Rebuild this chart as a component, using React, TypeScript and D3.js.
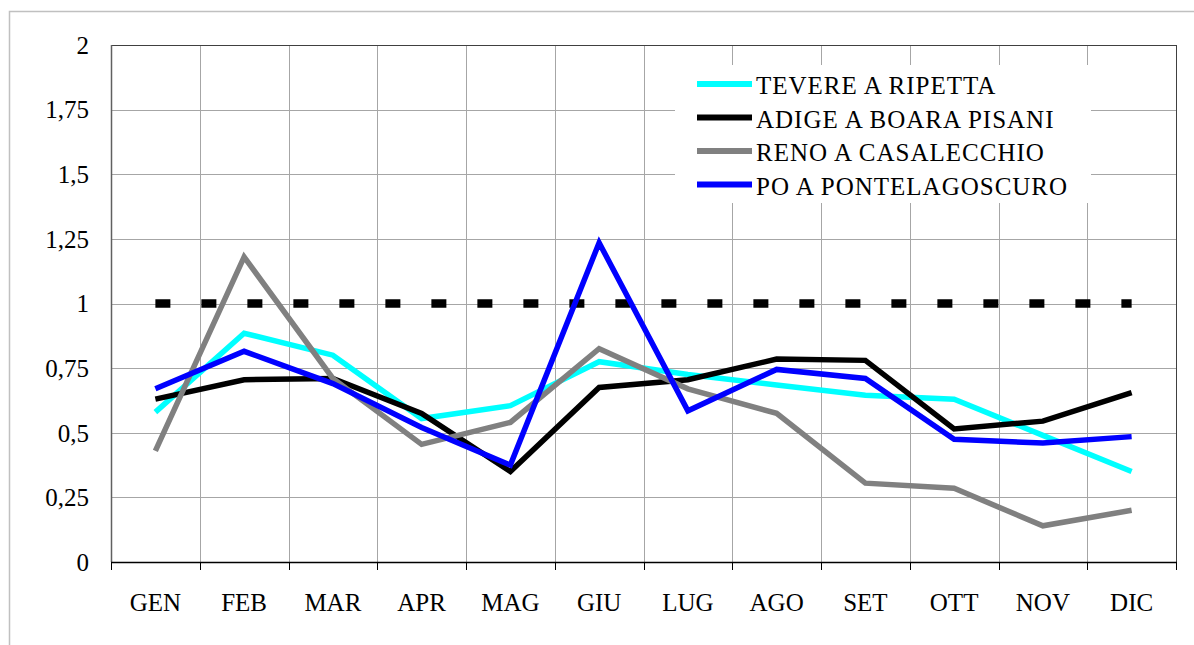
import React from 'react';
import * as d3 from 'd3';

const months = ['GEN', 'FEB', 'MAR', 'APR', 'MAG', 'GIU', 'LUG', 'AGO', 'SET', 'OTT', 'NOV', 'DIC'];
const tevere = [0.58, 0.885, 0.8, 0.555, 0.605, 0.775, 0.725, 0.685, 0.645, 0.63, 0.49, 0.35];
const adige = [0.63, 0.705, 0.71, 0.575, 0.35, 0.675, 0.705, 0.785, 0.78, 0.515, 0.545, 0.655];
const reno = [0.43, 1.18, 0.71, 0.455, 0.54, 0.825, 0.67, 0.575, 0.305, 0.285, 0.14, 0.2];
const po = [0.67, 0.815, 0.69, 0.52, 0.375, 1.235, 0.585, 0.745, 0.71, 0.475, 0.46, 0.485];
const reference = [1, 1, 1, 1, 1, 1, 1, 1, 1, 1, 1, 1];
const yTicks = [0, 0.25, 0.5, 0.75, 1, 1.25, 1.5, 1.75, 2];
const yTickLabels = ['0', '0,25', '0,5', '0,75', '1', '1,25', '1,5', '1,75', '2'];

const series = [
  { name: 'TEVERE A RIPETTA', values: tevere, color: '#00ffff' },
  { name: 'ADIGE A BOARA PISANI', values: adige, color: '#000000' },
  { name: 'RENO A CASALECCHIO', values: reno, color: '#808080' },
  { name: 'PO A PONTELAGOSCURO', values: po, color: '#0000ff' },
];

const W = 1194;
const H = 645;
const plot = { left: 111, right: 1176, top: 45, bottom: 562 };
const font = '"Liberation Serif", "Times New Roman", serif';

export default function App() {
  const x = d3.scaleBand<string>().domain(months).range([plot.left, plot.right]).padding(0);
  const y = d3.scaleLinear().domain([0, 2]).range([plot.bottom, plot.top]);
  const cx = (m: string) => (x(m) as number) + x.bandwidth() / 2;

  const line = d3
    .line<number>()
    .x((_, i) => cx(months[i]))
    .y((d) => y(d));

  const boundaries = months.map((m) => x(m) as number).concat([plot.right]);

  const legend = { x: 675, y: 65, w: 416, h: 138 };

  return (
    <div style={{ position: 'absolute', left: 0, top: 0 }}>
      <svg width={W} height={H} style={{ display: 'block', background: '#fff' }}>
        <rect x={9.5} y={11.5} width={W + 20} height={H + 20} fill="#fff" stroke="#c0c0c0" strokeWidth={1.5} />
        {/* grid */}
        {yTicks.slice(1, -1).map((t) => (
          <line key={'h' + t} x1={plot.left} x2={plot.right} y1={Math.round(y(t)) + 0.5} y2={Math.round(y(t)) + 0.5} stroke="#a6a6a6" />
        ))}
        {boundaries.slice(1, -1).map((b, i) => (
          <line key={'v' + i} x1={Math.round(b) + 0.5} x2={Math.round(b) + 0.5} y1={plot.top} y2={plot.bottom} stroke="#a6a6a6" />
        ))}
        {/* frame */}
        <line x1={plot.left} x2={plot.right} y1={plot.top + 0.5} y2={plot.top + 0.5} stroke="#404040" />
        <line x1={plot.right + 0.5} x2={plot.right + 0.5} y1={plot.top} y2={plot.bottom} stroke="#404040" />
        <line x1={plot.left + 0.5} x2={plot.left + 0.5} y1={plot.top} y2={plot.bottom} stroke="#606060" strokeWidth={1.5} />
        <line x1={plot.left} x2={plot.right + 1} y1={plot.bottom + 0.5} y2={plot.bottom + 0.5} stroke="#000" strokeWidth={1.5} />
        {boundaries.map((b, i) => (
          <line key={'t' + i} x1={Math.round(b) + 0.5} x2={Math.round(b) + 0.5} y1={plot.bottom} y2={plot.bottom + 8} stroke="#000" />
        ))}
        {/* y labels */}
        {yTicks.map((t, i) => (
          <text key={'yl' + t} x={89} y={y(t)} dy="0.35em" textAnchor="end" fontFamily={font} fontSize={25} fill="#000">
            {yTickLabels[i]}
          </text>
        ))}
        {/* x labels */}
        {months.map((m) => (
          <text key={'xl' + m} x={cx(m)} y={611} textAnchor="middle" fontFamily={font} fontSize={25} fill="#000">
            {m}
          </text>
        ))}
        {/* reference dashed line */}
        <path d={line(reference) || ''} fill="none" stroke="#000" strokeWidth={8.5} strokeDasharray="15,31" />
        {/* series */}
        {series.map((s) => (
          <path key={s.name} d={line(s.values) || ''} fill="none" stroke={s.color} strokeWidth={5.5} strokeLinejoin="miter" />
        ))}
        {/* legend */}
        <rect x={legend.x} y={legend.y} width={legend.w} height={legend.h} fill="#fff" />
        {series.map((s, i) => {
          const base = 94 + i * 33.5;
          return (
            <g key={'lg' + s.name}>
              <line x1={697} x2={752} y1={base - 10} y2={base - 10} stroke={s.color} strokeWidth={6} />
              <text x={756} y={base} fontFamily={font} fontSize={25} fill="#000" letterSpacing={1}>
                {s.name}
              </text>
            </g>
          );
        })}
      </svg>
    </div>
  );
}
